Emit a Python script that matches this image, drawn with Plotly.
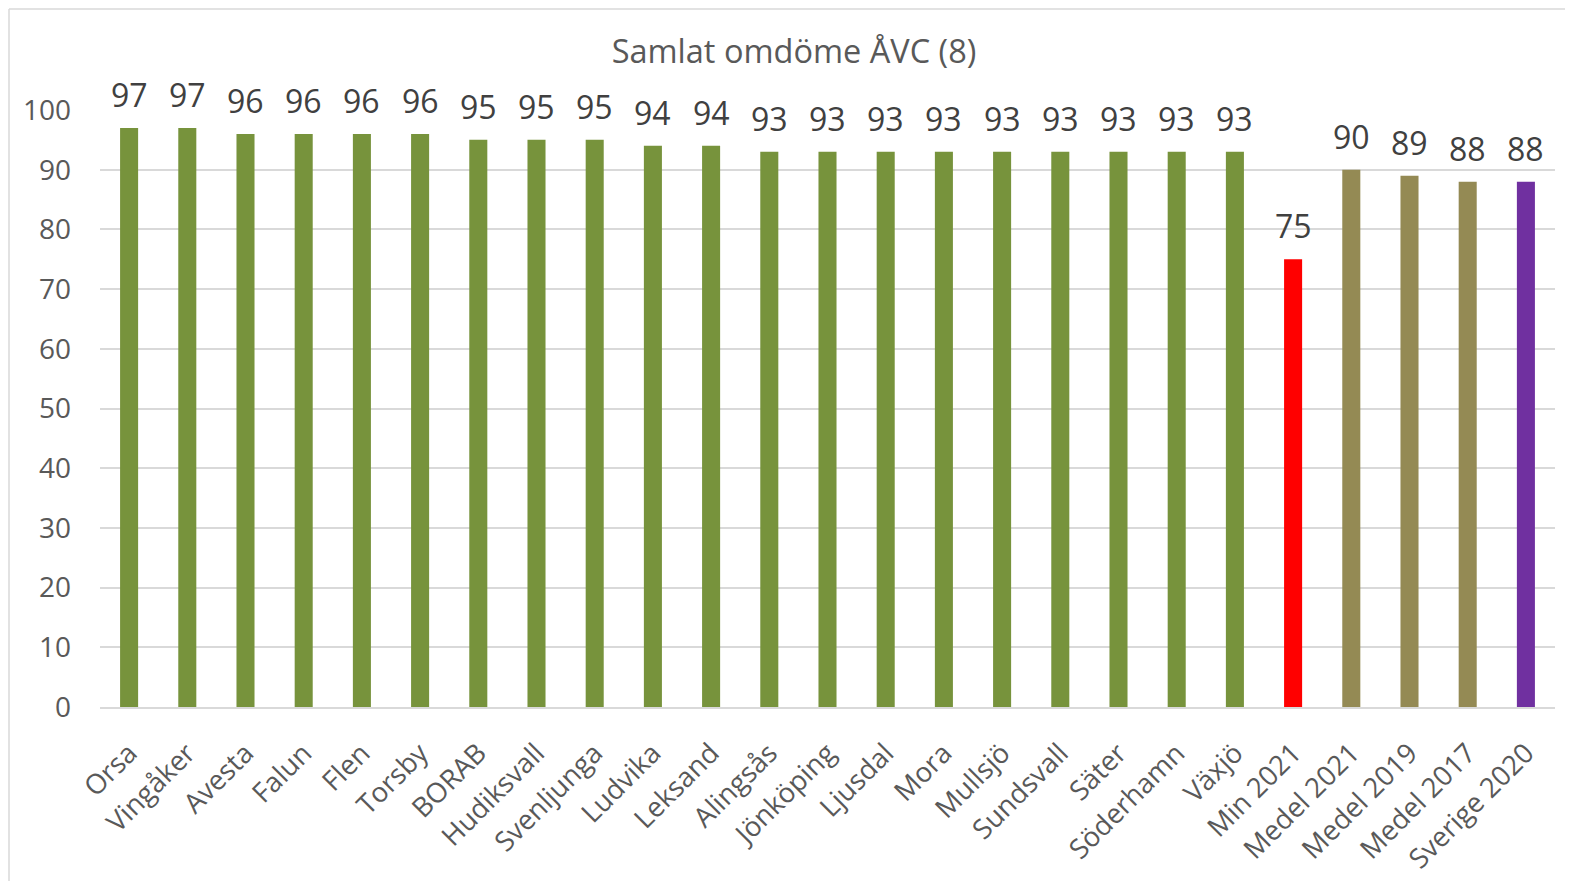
import plotly.graph_objects as go

categories = ["Orsa", "Vingåker", "Avesta", "Falun", "Flen", "Torsby", "BORAB", "Hudiksvall",
              "Svenljunga", "Ludvika", "Leksand", "Alingsås", "Jönköping", "Ljusdal", "Mora",
              "Mullsjö", "Sundsvall", "Säter", "Söderhamn", "Växjö", "Min 2021", "Medel 2021",
              "Medel 2019", "Medel 2017", "Sverige 2020"]
values = [97, 97, 96, 96, 96, 96, 95, 95, 95, 94, 94, 93, 93, 93, 93, 93, 93, 93, 93, 93,
          75, 90, 89, 88, 88]
bar_colors = ["#77933C"] * 20 + ["#FF0000", "#948A54", "#948A54", "#948A54", "#7030A0"]
y_ticks = [0, 10, 20, 30, 40, 50, 60, 70, 80, 90, 100]

# page has an 8px body margin; figure sized to avoid scrollbars
W, H = 1557, 873
OFF = 8
L, T = 100 - OFF, 110 - OFF
R = W - (1555 - OFF)
B = H - (707 - OFF)
pw, ph = W - L - R, H - T - B

fig = go.Figure(go.Bar(
    x=categories, y=values, marker_color=bar_colors, marker_line_width=0,
    width=0.31, cliponaxis=False,
))

for c, v in zip(categories, values):
    fig.add_annotation(x=c, y=v, text=str(v), showarrow=False, yanchor="bottom",
                       yshift=10, font=dict(family="Open Sans", size=32, color="#404040"))

def px_x(p):
    return (p - OFF - L) / pw

def px_y(p):
    return (H - B - (p - OFF)) / ph

fig.update_layout(
    width=W, height=H,
    margin=dict(l=L, r=R, t=T, b=B, autoexpand=False),
    paper_bgcolor="white", plot_bgcolor="white",
    font=dict(family="Open Sans", color="#595959"),
    title=dict(text="Samlat omdöme ÅVC (8)", x=(794 - OFF) / W, xanchor="center",
               y=1 - (52 - OFF) / H, yanchor="middle",
               font=dict(family="Open Sans", size=32.5, color="#595959")),
    showlegend=False,
    xaxis=dict(tickangle=-45, tickfont=dict(family="Open Sans", size=27.5, color="#595959"),
               showgrid=False, showline=True, linecolor="#D9D9D9", linewidth=2,
               ticks="", fixedrange=True, automargin=False, ticklabelstandoff=17),
    yaxis=dict(range=[0, 100], tickvals=y_ticks, showgrid=True, gridcolor="#D9D9D9",
               gridwidth=1.5, zeroline=False, showline=False, ticks="",
               tickfont=dict(family="Open Sans", size=28, color="#595959"),
               ticklabelstandoff=28, fixedrange=True, automargin=False),
    shapes=[
        dict(type="line", xref="paper", yref="paper", x0=px_x(9), x1=px_x(9),
             y0=px_y(9), y1=px_y(900), line=dict(color="#D9D9D9", width=1.5)),
        dict(type="line", xref="paper", yref="paper", x0=px_x(9), x1=px_x(1600),
             y0=px_y(9), y1=px_y(9), line=dict(color="#D9D9D9", width=1.5)),
    ],
)

fig.write_html("out.html")
